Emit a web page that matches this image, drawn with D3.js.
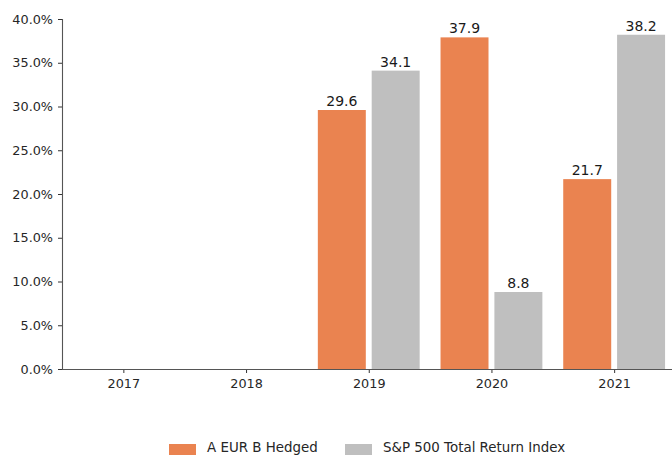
<!DOCTYPE html>
<html><head><meta charset="utf-8">
<script src="https://cdn.jsdelivr.net/npm/d3@7"></script>
<style>body{margin:0;background:#fff}svg{display:block;font-family:"DejaVu Sans",sans-serif}</style>
</head><body><svg id="c" width="672" height="455"></svg>
<script>
const years = ["2017","2018","2019","2020","2021"];
const fundValues = [null, null, 29.6, 37.9, 21.7];
const indexValues = [null, null, 34.1, 8.8, 38.2];
const seriesNames = ["A EUR B Hedged", "S&P 500 Total Return Index"];
const seriesColors = ["#EA8350", "#BFBFBF"];
const yTicks = [0,5,10,15,20,25,30,35,40];

const svg = d3.select("#c");
const x0 = 62, yTop = 19, yBot = 369;
const step = 122.7;
const x = d3.scaleLinear().domain([-0.5, 4.5]).range([x0, x0 + 5*step]);
const y = d3.scaleLinear().domain([0, 40]).range([yBot, yTop]);
const half = 0.415, gap = 0.024;

const yAxis = d3.axisLeft(y).tickValues(yTicks).tickFormat(d => d.toFixed(1) + "%").tickSize(4).tickPadding(5);
const gy = svg.append("g").attr("transform", `translate(${x0},0)`).call(yAxis);
const xAxis = d3.axisBottom(x).tickValues(d3.range(years.length)).tickFormat(i => years[i]).tickSize(4).tickPadding(6);
const gx = svg.append("g").attr("transform", `translate(0,${yBot})`).call(xAxis);
[gy, gx].forEach(g => {
  g.select(".domain").attr("stroke", "#555").attr("stroke-width", 1.1);
  g.selectAll(".tick line").attr("stroke", "#333");
  g.selectAll("text").attr("fill", "#262626").style("font-size", "12.8px").style("font-family", "DejaVu Sans");
});
gx.select(".domain").attr("d", `M${x0},0.5H672`);
gy.select(".domain").attr("d", `M0.5,${yTop}V${yBot}`);

const series = [fundValues, indexValues];
series.forEach((vals, s) => {
  const data = vals.map((v, i) => ({i, v})).filter(d => d.v != null);
  const a = s === 0 ? -half : gap, b = s === 0 ? -gap : half;
  svg.append("g").selectAll("rect").data(data).join("rect")
    .attr("x", d => x(d.i + a))
    .attr("width", d => x(d.i + b) - x(d.i + a))
    .attr("y", d => y(d.v))
    .attr("height", d => yBot - y(d.v))
    .attr("fill", seriesColors[s]);
  svg.append("g").selectAll("text").data(data).join("text")
    .attr("x", d => x(d.i + (a + b) / 2))
    .attr("y", d => y(d.v) - 4)
    .attr("text-anchor", "middle")
    .attr("fill", "#1a1a1a")
    .style("font-size", "14px")
    .text(d => d.v.toFixed(1));
});

svg.append("line").attr("x1", x0).attr("x2", 672).attr("y1", yBot + 0.5).attr("y2", yBot + 0.5).attr("stroke", "#555").attr("stroke-width", 1.1);

const legX = [169, 345];
seriesNames.forEach((n, s) => {
  svg.append("rect").attr("x", legX[s]).attr("y", 444).attr("width", 27).attr("height", 11).attr("fill", seriesColors[s]);
  svg.append("text").attr("x", legX[s] + 38).attr("y", 451.5).attr("fill", "#262626").style("font-size", "13.4px").text(n);
});
</script></body></html>
